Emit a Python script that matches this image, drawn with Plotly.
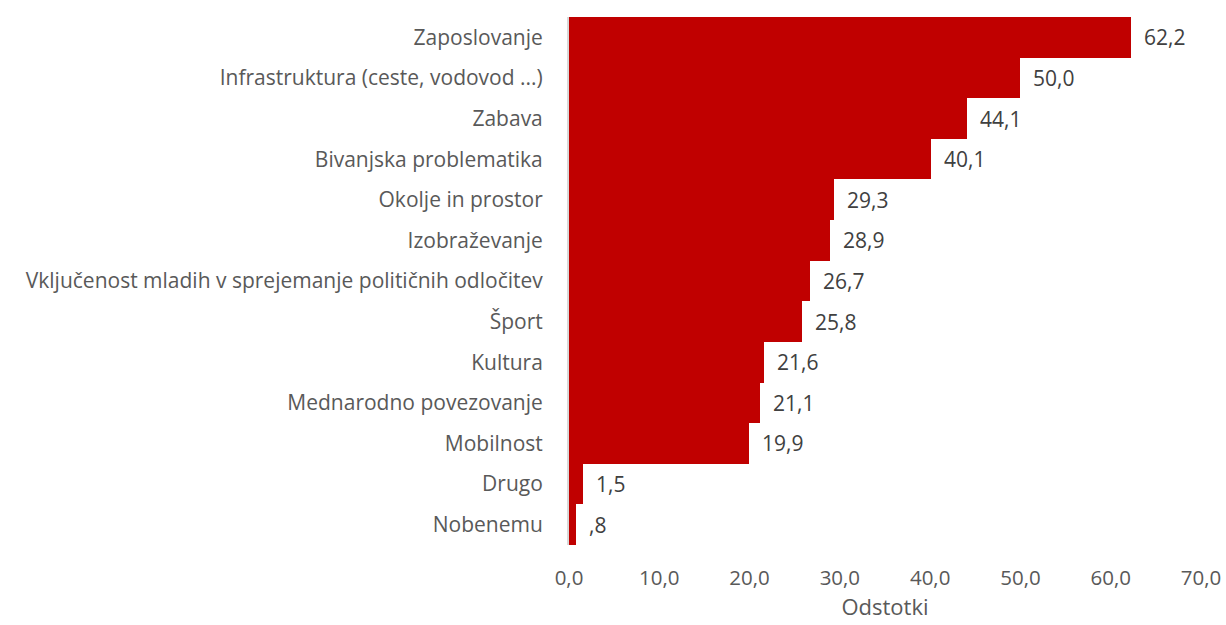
import plotly.graph_objects as go

categories = [
    "Zaposlovanje",
    "Infrastruktura (ceste, vodovod ...)",
    "Zabava",
    "Bivanjska problematika",
    "Okolje in prostor",
    "Izobraževanje",
    "Vključenost mladih v sprejemanje političnih odločitev",
    "Šport",
    "Kultura",
    "Mednarodno povezovanje",
    "Mobilnost",
    "Drugo",
    "Nobenemu",
]
values = [62.2, 50.0, 44.1, 40.1, 29.3, 28.9, 26.7, 25.8, 21.6, 21.1, 19.9, 1.5, 0.8]
tick_vals = [0, 10, 20, 30, 40, 50, 60, 70]


def fmt(v):
    s = f"{v:.1f}".replace(".", ",")
    if s.startswith("0,"):
        s = s[1:]
    return s


labels = [fmt(v) for v in values]

font_family = "Open Sans, Carlito, Liberation Sans, sans-serif"
gray = "#595959"

fig = go.Figure(
    go.Bar(
        x=values,
        y=categories,
        orientation="h",
        marker=dict(color="#C00000", line=dict(width=0)),
        width=1.0,
        hoverinfo="x+y",
    )
)

for cat, v, lab in zip(categories, values, labels):
    fig.add_annotation(
        x=v,
        y=cat,
        text=lab,
        showarrow=False,
        xanchor="left",
        yanchor="middle",
        xshift=11,
        font=dict(size=21, color="#404040", family=font_family),
    )

fig.update_layout(
    width=1226,
    height=625,
    margin=dict(l=569, r=25, t=17, b=80),
    paper_bgcolor="white",
    plot_bgcolor="white",
    separators=", ",
    bargap=0,
    showlegend=False,
    font=dict(family=font_family, color=gray, size=21),
)

fig.update_xaxes(
    range=[0, 70],
    tickvals=tick_vals,
    tickformat=".1f",
    showgrid=False,
    zeroline=False,
    showline=False,
    ticks="outside",
    ticklen=14,
    tickcolor="rgba(0,0,0,0)",
    tickfont=dict(size=20.5, color=gray),
    automargin=False,
    title=dict(text="Odstotki", font=dict(size=22, color=gray), standoff=10),
)

fig.update_yaxes(
    autorange="reversed",
    showgrid=False,
    zeroline=False,
    showline=True,
    linecolor="#D9D9D9",
    linewidth=2,
    ticks="outside",
    ticklen=20,
    tickcolor="rgba(0,0,0,0)",
    tickfont=dict(size=21, color=gray),
    automargin=False,
)

fig.write_html(
    "out.html",
    config={"displayModeBar": False},
    post_script="document.body.style.margin='0';document.body.style.overflow='hidden';",
)
